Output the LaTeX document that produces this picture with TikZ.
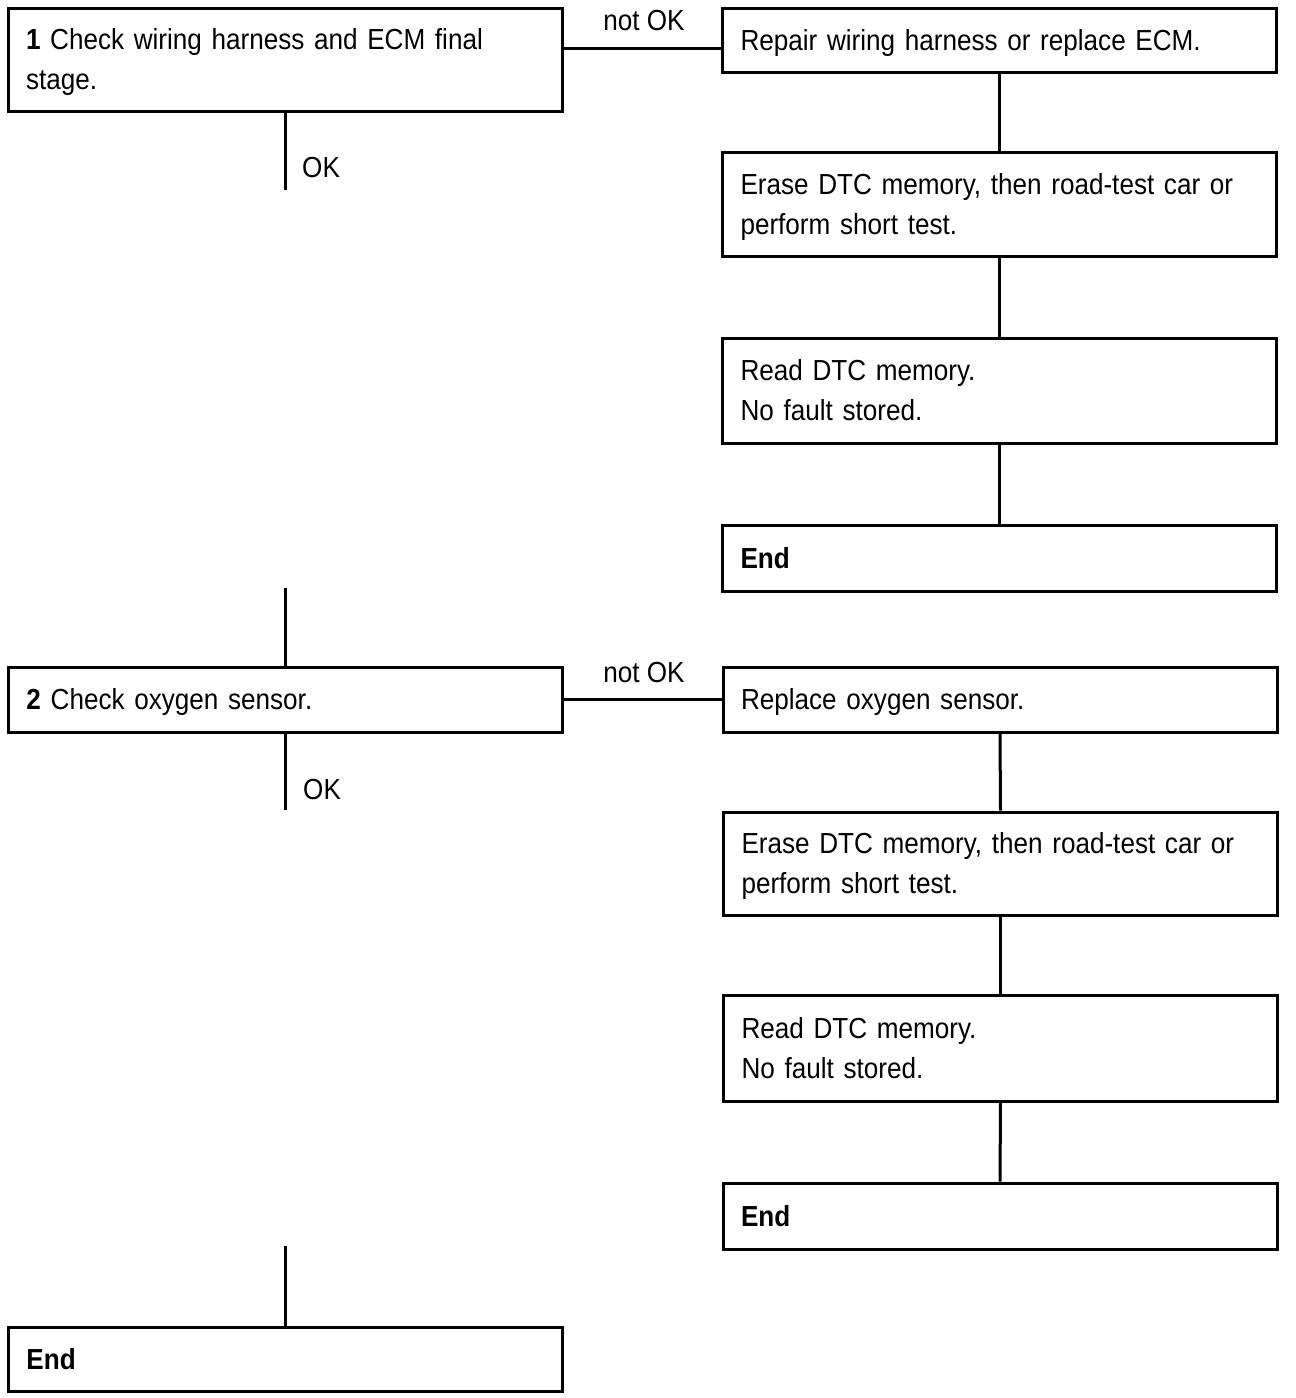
\documentclass[tikz,border=0pt]{standalone}
\usepackage{fontspec}
\setmainfont{Liberation Sans}[FakeStretch=0.9]
\newcommand{\ls}{\rule[-10pt]{0pt}{40pt}}
\begin{document}
\begin{tikzpicture}[x=1pt,y=-1pt,
  box/.style={draw, line width=3pt, rectangle, inner xsep=18pt, inner ysep=0pt,
    text width=#1, align=left, font=\fontsize{29}{40}\selectfont},
  box/.default=518pt,
  lbl/.style={font=\fontsize{29}{40}\selectfont, inner sep=0pt},
  conn/.style={line width=3pt}]
\useasboundingbox (0,0) rectangle (1296,1398);
% left column
\node[box, minimum height=103pt] (b1) at (285,59.5) {\ls\textbf{1} Check wiring harness and ECM final\\\ls stage.};
\node[box, minimum height=65pt] (b2) at (285.5,699.5) {\ls\textbf{2} Check oxygen sensor.};
\node[box, minimum height=64pt] (b3) at (285.5,1359) {\ls\textbf{End}};
% right column, top
\node[box, minimum height=64pt] (r1) at (999.5,40) {\ls Repair wiring harness or replace ECM.};
\node[box, minimum height=104pt] (r2) at (999.5,204) {\ls Erase DTC memory, then road-test car or\\\ls perform short test.};
\node[box, minimum height=105pt] (r3) at (999.5,390.5) {\ls Read DTC memory.\\\ls No fault stored.};
\node[box, minimum height=66pt] (r4) at (999.5,558) {\ls\textbf{End}};
% right column, bottom
\node[box, minimum height=65pt] (r5) at (1000,699.5) {\ls Replace oxygen sensor.};
\node[box, minimum height=103pt] (r6) at (1000.5,863.5) {\ls Erase DTC memory, then road-test car or\\\ls perform short test.};
\node[box, minimum height=106pt] (r7) at (1000.5,1048) {\ls Read DTC memory.\\\ls No fault stored.};
\node[box, minimum height=66pt] (r8) at (1000,1216) {\ls\textbf{End}};
% connectors
\coordinate (c1) at (562,48);
\draw[conn] (c1) -- (c1 -| r1.west);
\draw[conn] (b2.east) -- (r5.west);
\draw[conn] (r1.south) -- (r2.north);
\draw[conn] (r2.south) -- (r3.north);
\draw[conn] (r3.south) -- (r4.north);
\draw[conn] (r5.south) -- (r6.north);
\draw[conn] (r6.south) -- (r7.north);
\draw[conn] (r7.south) -- (r8.north);
\coordinate (ok1) at (285,190);
\coordinate (in2) at (285.5,588);
\coordinate (ok2) at (285.5,810);
\coordinate (in3) at (285.5,1246);
\draw[conn] (b1.south -| ok1) -- (ok1);
\draw[conn] (in2) -- (b2.north);
\draw[conn] (b2.south) -- (ok2);
\draw[conn] (in3) -- (b3.north);
% labels
\node[lbl, anchor=base] (n1) at (644,30) {not OK};
\node[lbl, anchor=base] (n2) at (644,682) {not OK};
\node[lbl, anchor=base west] (k1) at (302,177) {OK};
\node[lbl, anchor=base west] (k2) at (303,799) {OK};
\end{tikzpicture}
\end{document}
